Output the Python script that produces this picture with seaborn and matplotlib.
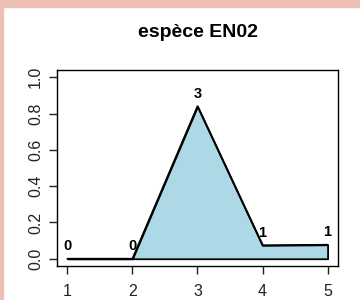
import numpy as np
import pandas as pd
import matplotlib
matplotlib.use("Agg")
import matplotlib.pyplot as plt
import seaborn as sns
from matplotlib.patches import Rectangle

# données
positions = [1, 2, 3, 4, 5]
valeurs = [0.0, 0.0, 0.84, 0.074, 0.077]
effectifs = ["0", "0", "3", "1", "1"]
titre = "espèce EN02"

df = pd.DataFrame({"x": positions, "y": valeurs, "lab": effectifs})

sns.set_theme(style="ticks")
plt.rcParams['font.family'] = ['Liberation Sans', 'DejaVu Sans']
plt.rcParams['text.color'] = 'black'

fig = plt.figure(figsize=(3.6, 3.0), dpi=100)
fig.patch.set_facecolor("white")
# bordure rose
fig.patches.append(Rectangle((0, 0), 3 / 360, 1, transform=fig.transFigure,
                             color="#edc0b5", zorder=0))
fig.patches.append(Rectangle((0, 1 - 7 / 300), 1, 7 / 300, transform=fig.transFigure,
                             color="#edc0b5", zorder=0))

ax = fig.add_axes([57 / 360, 34 / 300, 281 / 360, 196 / 300])
ax.fill_between(df["x"], df["y"], 0, facecolor="#add8e6", edgecolor="black", linewidth=1.3)
sns.lineplot(data=df, x="x", y="y", color="black", linewidth=1.3, ax=ax)

for _, r in df.iterrows():
    ax.annotate(r["lab"], (r["x"], r["y"]), xytext=(0, 4), textcoords="offset points",
                ha="center", va="bottom", fontsize=10.5, fontweight="bold", color="black")

ax.set_xlim(0.84, 5.16)
ax.set_ylim(-0.04, 1.04)
ax.set_xticks(positions)
ax.set_yticks([0.0, 0.2, 0.4, 0.6, 0.8, 1.0])
ax.set_yticklabels(["0.0", "0.2", "0.4", "0.6", "0.8", "1.0"], rotation=90, va="center")
ax.tick_params(axis="both", length=6, width=1, labelsize=11.5, colors="#222222", pad=7)
ax.tick_params(axis="y", pad=4)
ax.set_xlabel("")
ax.set_ylabel("")
for s in ax.spines.values():
    s.set_visible(True)
    s.set_color("black")
    s.set_linewidth(1)
ax.set_title(titre, fontsize=14, fontweight="bold", pad=24, color="black")

fig.savefig("out.png", dpi=100)
